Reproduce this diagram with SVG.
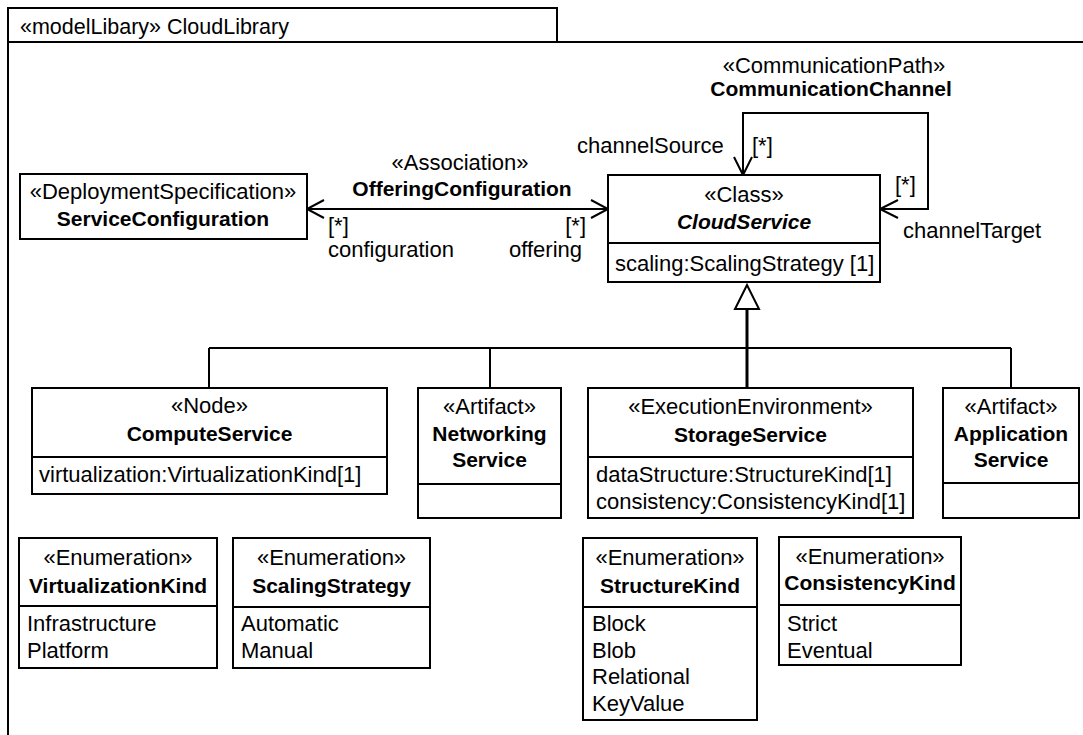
<svg xmlns="http://www.w3.org/2000/svg" width="1083" height="735" viewBox="0 0 1083 735">
  <style>
    text { font-family: "Liberation Sans", Arial, sans-serif; font-size: 22px; fill: #000; }
    .b { font-weight: bold; font-size: 21px; }
    .bi { font-weight: bold; font-style: italic; font-size: 21px; }
    .c { text-anchor: middle; }
    .e { text-anchor: end; }
    .box { fill: #fff; stroke: #000; stroke-width: 2; }
    .ln { fill: none; stroke: #000; stroke-width: 2; }
    .thick { fill: none; stroke: #000; stroke-width: 3; }
  </style>
  <rect width="1083" height="735" fill="#fff"/>

  <!-- package frame -->
  <g id="frame">
    <rect x="8" y="8" width="549" height="34" class="box"/>
    <path d="M8 42 H1083 M8 8 V735" class="ln"/>
    <text x="20" y="34" style="font-size:21.5px">«modelLibary» CloudLibrary</text>
  </g>

  <!-- connectors -->
  <g id="connectors">
    <!-- OfferingConfiguration association -->
    <path d="M307 209 H608" class="ln"/>
    <path d="M324 200 L307 209 L324 218" class="ln"/>
    <path d="M591 200 L608 209 L591 218" class="ln"/>
    <text x="460" y="170" class="c">«Association»</text>
    <text x="462" y="196" class="b c">OfferingConfiguration</text>
    <text x="328" y="233">[*]</text>
    <text x="328" y="257">configuration</text>
    <text x="586" y="233" class="e">[*]</text>
    <text x="582" y="257" class="e">offering</text>

    <!-- CommunicationChannel self loop -->
    <path d="M743 175 V113 H928 V209 H880" class="ln"/>
    <path d="M734 157 L743 175 L752 157" class="ln"/>
    <path d="M898 200 L880 209 L898 218" class="ln"/>
    <text x="834" y="73" class="c">«CommunicationPath»</text>
    <text x="831" y="96" class="b c">CommunicationChannel</text>
    <text x="577" y="153">channelSource</text>
    <text x="752" y="153">[*]</text>
    <text x="895" y="192">[*]</text>
    <text x="903" y="238">channelTarget</text>

    <!-- generalization tree -->
    <path d="M747 309 V348" class="thick"/>
    <path d="M209 348 H1011 M209 348 V388 M490 348 V388 M1011 348 V388" class="ln"/>
    <path d="M747 348 V388" class="thick"/>
    <polygon points="747,285 735,309 759,309" fill="#fff" stroke="#000" stroke-width="2"/>
  </g>

  <g id="ServiceConfiguration">
    <rect x="20" y="174" width="287" height="65" class="box"/>
    <text x="163" y="199" class="c">«DeploymentSpecification»</text>
    <text x="163" y="226" class="b c">ServiceConfiguration</text>
  </g>

  <g id="CloudService">
    <rect x="608" y="175" width="272" height="107" class="box"/>
    <path d="M608 243 H880" class="ln"/>
    <text x="744" y="202" class="c">«Class»</text>
    <text x="744" y="229" class="bi c">CloudService</text>
    <text x="615" y="271">scaling:ScalingStrategy [1]</text>
  </g>

  <g id="ComputeService">
    <rect x="32" y="388" width="355" height="106" class="box"/>
    <path d="M32 457 H387" class="ln"/>
    <text x="209.5" y="413" class="c">«Node»</text>
    <text x="209.5" y="441" class="b c">ComputeService</text>
    <text x="39" y="482">virtualization:VirtualizationKind[1]</text>
  </g>

  <g id="NetworkingService">
    <rect x="418" y="388" width="143" height="130" class="box"/>
    <path d="M418 484 H561" class="ln"/>
    <text x="489.5" y="414" class="c">«Artifact»</text>
    <text x="489.5" y="441" class="b c">Networking</text>
    <text x="489.5" y="467" class="b c">Service</text>
  </g>

  <g id="StorageService">
    <rect x="588" y="388" width="325" height="130" class="box"/>
    <path d="M588 457 H913" class="ln"/>
    <text x="750.5" y="414" class="c">«ExecutionEnvironment»</text>
    <text x="750.5" y="442" class="b c">StorageService</text>
    <text x="596" y="482">dataStructure:StructureKind[1]</text>
    <text x="596" y="509">consistency:ConsistencyKind[1]</text>
  </g>

  <g id="ApplicationService">
    <rect x="943" y="388" width="136" height="130" class="box"/>
    <path d="M943 483 H1079" class="ln"/>
    <text x="1011" y="414" class="c">«Artifact»</text>
    <text x="1011" y="441" class="b c">Application</text>
    <text x="1011" y="467" class="b c">Service</text>
  </g>

  <g id="VirtualizationKind">
    <rect x="19" y="538" width="198" height="130" class="box"/>
    <path d="M19 606 H217" class="ln"/>
    <text x="118" y="565" class="c">«Enumeration»</text>
    <text x="118" y="593" class="b c">VirtualizationKind</text>
    <text x="27" y="631">Infrastructure</text>
    <text x="27" y="658">Platform</text>
  </g>

  <g id="ScalingStrategy">
    <rect x="233" y="538" width="197" height="130" class="box"/>
    <path d="M233 607 H430" class="ln"/>
    <text x="331.5" y="565" class="c">«Enumeration»</text>
    <text x="331.5" y="593" class="b c">ScalingStrategy</text>
    <text x="241" y="631">Automatic</text>
    <text x="241" y="658">Manual</text>
  </g>

  <g id="StructureKind">
    <rect x="583" y="538" width="174" height="182" class="box"/>
    <path d="M583 607 H757" class="ln"/>
    <text x="670" y="565" class="c">«Enumeration»</text>
    <text x="670" y="593" class="b c">StructureKind</text>
    <text x="592" y="631">Block</text>
    <text x="592" y="658">Blob</text>
    <text x="592" y="684">Relational</text>
    <text x="592" y="711">KeyValue</text>
  </g>

  <g id="ConsistencyKind">
    <rect x="779" y="537" width="182" height="128" class="box"/>
    <path d="M779 605 H961" class="ln"/>
    <text x="870" y="564" class="c">«Enumeration»</text>
    <text x="870" y="590" class="b c">ConsistencyKind</text>
    <text x="787" y="631">Strict</text>
    <text x="787" y="658">Eventual</text>
  </g>
</svg>
